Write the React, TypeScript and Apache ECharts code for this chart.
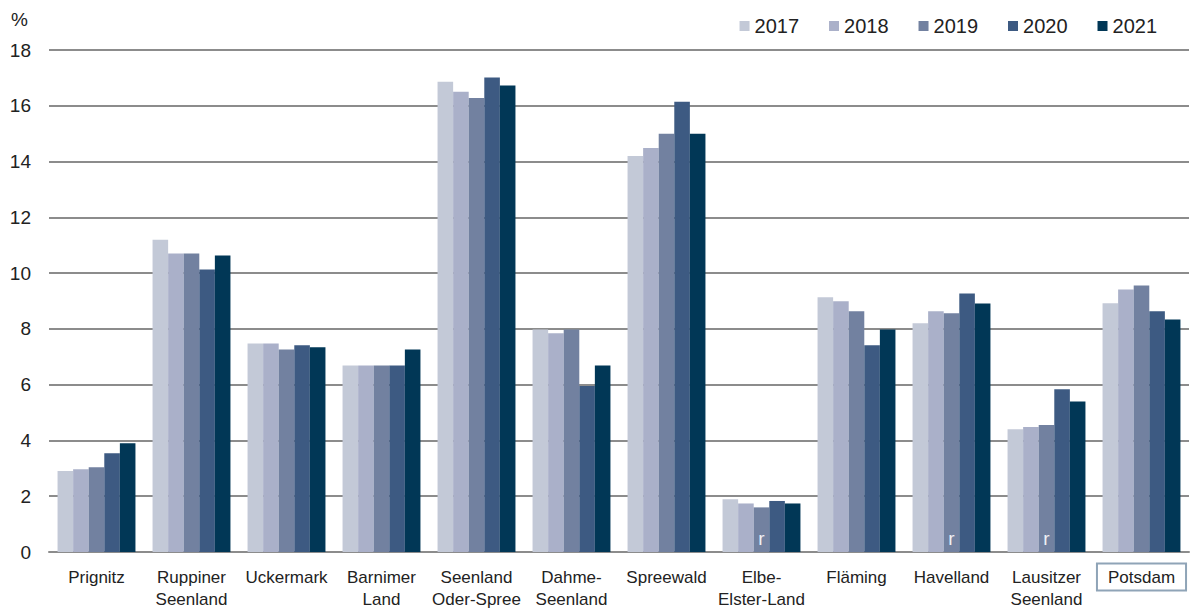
import React, { useEffect, useRef } from "react";
import * as echarts from "echarts";

const regions = [
  "Prignitz",
  "Ruppiner\nSeenland",
  "Uckermark",
  "Barnimer\nLand",
  "Seenland\nOder-Spree",
  "Dahme-\nSeenland",
  "Spreewald",
  "Elbe-\nElster-Land",
  "Fläming",
  "Havelland",
  "Lausitzer\nSeenland",
  "Potsdam",
];

const years = ["2017", "2018", "2019", "2020", "2021"];

const v2017 = [2.9, 11.2, 7.48, 6.69, 16.86, 7.98, 14.2, 1.89, 9.13, 8.2, 4.4, 8.92];
const v2018 = [2.97, 10.7, 7.48, 6.69, 16.5, 7.84, 14.49, 1.74, 8.99, 8.63, 4.48, 9.41];
const v2019 = [3.04, 10.7, 7.26, 6.69, 16.28, 7.98, 15.0, 1.6, 8.63, 8.56, 4.55, 9.56];
const v2020 = [3.54, 10.13, 7.41, 6.69, 17.01, 5.95, 16.14, 1.83, 7.41, 9.27, 5.84, 8.63];
const v2021 = [3.9, 10.63, 7.34, 7.26, 16.73, 6.69, 15.0, 1.74, 7.98, 8.91, 5.4, 8.34];

// regions whose 2019 value is marked as revised ("r")
const revised2019 = ["Elbe-\nElster-Land", "Havelland", "Lausitzer\nSeenland"];

const yTicks = [0, 2, 4, 6, 8, 10, 12, 14, 16, 18];

const colors = ["#c3c9d7", "#aab0c9", "#7281a0", "#3d5a82", "#013756"];

const FONT = "'Liberation Sans', Arial, Helvetica, sans-serif";

export default function App() {
  const ref = useRef<HTMLDivElement>(null);

  useEffect(() => {
    if (!ref.current) return;
    const chart = echarts.init(ref.current, null, { renderer: "svg" });
    const valueSets = [v2017, v2018, v2019, v2020, v2021];

    const series = years.map((y, i) => ({
      name: y,
      type: "bar",
      barGap: "0%",
      barCategoryGap: "18%",
      itemStyle: { color: colors[i] },
      data: valueSets[i].map((v, j) => {
        if (i === 2 && revised2019.includes(regions[j])) {
          return {
            value: v,
            label: {
              show: true,
              position: "insideBottom",
              distance: 4,
              formatter: "r",
              color: "#eef0f5",
              fontSize: 19,
              fontFamily: FONT,
            },
          };
        }
        return v;
      }),
    }));

    chart.setOption({
      animation: false,
      backgroundColor: "#ffffff",
      textStyle: { fontFamily: FONT },
      grid: { left: 49, right: 0, top: 50, bottom: 58, containLabel: false },
      legend: {
        data: years,
        right: 33,
        top: 16,
        padding: 0,
        itemWidth: 10,
        itemHeight: 10,
        itemGap: 30,
        icon: "rect",
        textStyle: { fontSize: 20, color: "#222", fontFamily: FONT },
      },
      graphic: [
        {
          type: "text",
          left: 11,
          top: 10,
          style: { text: "%", fontSize: 19, fill: "#222", fontFamily: FONT },
        },
      ],
      xAxis: {
        type: "category",
        data: regions,
        axisLine: { show: true, lineStyle: { color: "#8c8c8c", width: 2 } },
        axisTick: { show: false },
        axisLabel: {
          interval: 0,
          margin: 14,
          fontSize: 17,
          lineHeight: 22,
          color: "#222",
          fontFamily: FONT,
          formatter: (val: string) =>
            val === "Potsdam" ? "{box|" + val + "}" : val,
          rich: {
            box: {
              fontSize: 17,
              color: "#222",
              fontFamily: FONT,
              borderColor: "#8fa4b7",
              borderWidth: 2,
              padding: [5, 11, 5, 11],
            },
          },
        },
      },
      yAxis: {
        type: "value",
        min: yTicks[0],
        max: yTicks[yTicks.length - 1],
        interval: 2,
        axisLine: { show: false },
        axisTick: { show: false },
        axisLabel: {
          margin: 18,
          fontSize: 19,
          color: "#222",
          fontFamily: FONT,
        },
        splitLine: { lineStyle: { color: "#8c8c8c", width: 2 } },
      },
      series,
    });

    return () => chart.dispose();
  }, []);

  return (
    <div
      ref={ref}
      style={{ position: "absolute", left: 0, top: 0, width: 1190, height: 610 }}
    />
  );
}
